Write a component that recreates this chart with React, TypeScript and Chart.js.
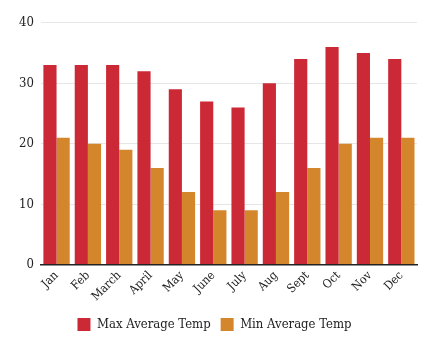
import React, { useEffect, useRef } from "react";
import { Chart, registerables } from "chart.js";

Chart.register(...registerables);

const categories = ["Jan", "Feb", "March", "April", "May", "June", "July", "Aug", "Sept", "Oct", "Nov", "Dec"];
const maxTemp = [33, 33, 33, 32, 29, 27, 26, 30, 34, 36, 35, 34];
const minTemp = [21, 20, 19, 16, 12, 9, 9, 12, 16, 20, 21, 21];

const FONT = "'DejaVu Serif Condensed', 'DejaVu Serif'";

export default function App() {
  const ref = useRef<HTMLCanvasElement>(null);
  useEffect(() => {
    if (!ref.current) return;
    const chart = new Chart(ref.current, {
      type: "bar",
      data: {
        labels: categories,
        datasets: [
          { label: "Max Average Temp", data: maxTemp, backgroundColor: "#cc2936" },
          { label: "Min Average Temp", data: minTemp, backgroundColor: "#d4862d" },
        ],
      },
      options: {
        animation: false,
        responsive: true,
        maintainAspectRatio: false,
        layout: { padding: { top: 0, right: 2, left: 4, bottom: 0 } },
        datasets: { bar: { categoryPercentage: 0.84, barPercentage: 1 } },
        plugins: {
          legend: {
            position: "bottom",
            labels: {
              font: { family: FONT, size: 13 },
              color: "#222",
              boxWidth: 13,
              boxHeight: 13,
              padding: 10,
            },
          },
          tooltip: { enabled: false },
        },
        scales: {
          x: {
            grid: { display: false, drawTicks: false },
            border: { display: true, color: "#222", width: 1.5 },
            ticks: {
              font: { family: FONT, size: 12 },
              color: "#222",
              maxRotation: 45,
              minRotation: 45,
              padding: 4,
            },
          },
          y: {
            min: 0,
            max: 40,
            grid: { color: "#e6e6e6", drawTicks: false },
            border: { display: false },
            ticks: {
              stepSize: 10,
              font: { family: FONT, size: 13 },
              color: "#222",
              padding: 7,
            },
          },
        },
      },
    });
    return () => chart.destroy();
  }, []);
  return (
    <div style={{ width: 411, height: 333 }}>
      <canvas ref={ref} />
    </div>
  );
}
